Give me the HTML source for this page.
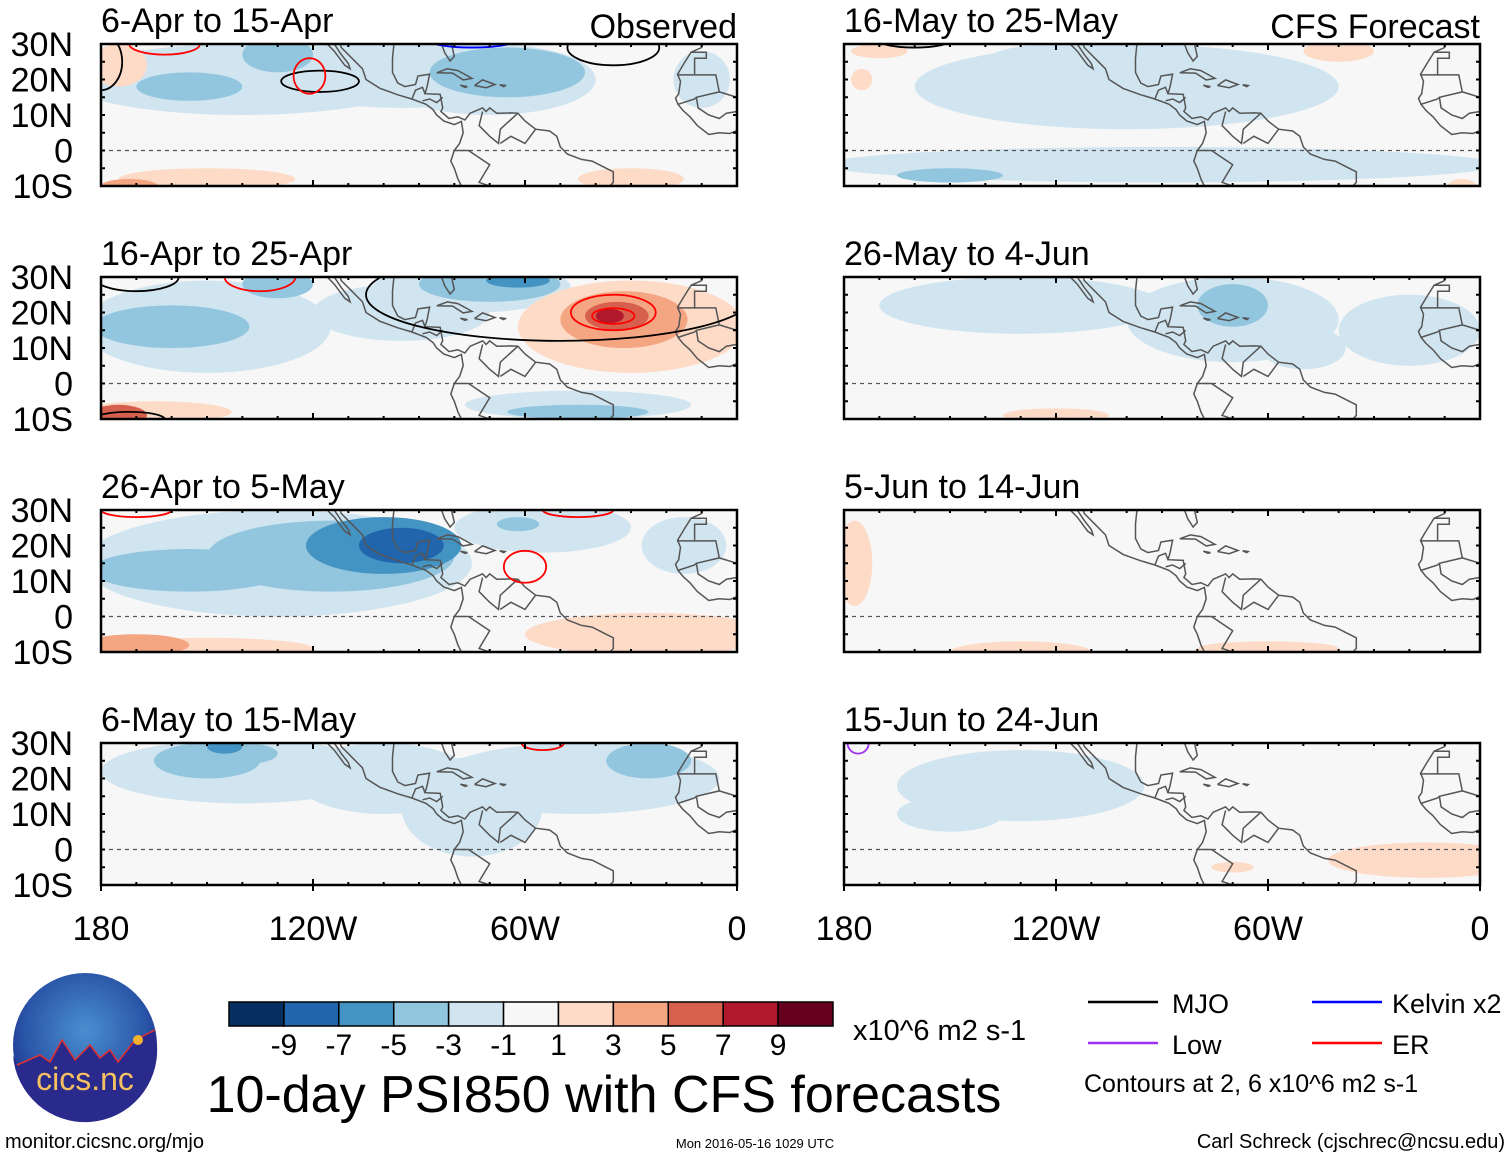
<!DOCTYPE html>
<html><head><meta charset="utf-8">
<style>
html,body{margin:0;padding:0;background:#fff;}
body{width:1510px;height:1158px;overflow:hidden;font-family:"Liberation Sans",sans-serif;}
svg text{font-family:"Liberation Sans",sans-serif;}
</style></head>
<body>
<svg id="chart" width="1510" height="1158" viewBox="0 0 1510 1158" xmlns="http://www.w3.org/2000/svg">
<defs>
<radialGradient id="logoGrad" cx="50%" cy="40%" r="60%">
<stop offset="0" stop-color="#4a8fd0"/><stop offset="0.7" stop-color="#2a56a8"/><stop offset="1" stop-color="#1c2f8a"/>
</radialGradient>
</defs>
<g id="panels"></g>
<g id="legend"></g>
</svg>
<script>
const panelTitles = ["6-Apr to 15-Apr","16-Apr to 25-Apr","26-Apr to 5-May","6-May to 15-May","16-May to 25-May","26-May to 4-Jun","5-Jun to 14-Jun","15-Jun to 24-Jun"];
const latTicks = [30,20,10,0,-10];
const latLabels = ["30N","20N","10N","0","10S"];
const lonTicks = [-180,-120,-60,0];
const lonLabels = ["180","120W","60W","0"];
const levels = [-9,-7,-5,-3,-1,1,3,5,7,9];
const levelColors = ["#053061","#2166ac","#4393c3","#92c5de","#d1e5f0","#f7f7f7","#fddbc7","#f4a582","#d6604d","#b2182b","#67001f"];
// Shaded anomaly blobs per panel: [lon, lat, lonRadius, latRadius, value]
const shading = [
 [[-140,20,50,10,-2],[-95,22,40,10,-2],[-70,20,30,10,-2],[-155,18,15,4,-4],[-130,27,10,5,-4],[-65,22,22,7,-4],[-175,24,8,6,2],[-150,-8,25,3,2],[-30,-8,15,3,2],[-172,-10,8,2,4],[-10,20,8,8,-2]],
 [[-150,16,35,13,-2],[-160,16,22,6,-4],[-130,28,10,4,-4],[-75,27,28,7,-2],[-70,28,20,5,-4],[-62,29,9,2,-6],[-30,16,32,13,2],[-32,18,18,8,4],[-34,19,9,4,6],[-36,19,4,2,8],[-165,-8,22,3,2],[-175,-9,8,3,6],[-45,-6,32,4,-2],[-45,-8,20,2,-4],[-95,20,25,8,-2]],
 [[-130,15,55,15,-2],[-155,13,28,6,-4],[-115,17,35,10,-4],[-100,20,22,8,-6],[-95,20,12,5,-8],[-55,25,25,7,-2],[-15,20,12,8,-2],[-25,-5,35,6,2],[-170,-8,15,3,4],[-150,-9,30,3,2],[-62,26,6,2,-4]],
 [[-140,22,40,9,-2],[-100,20,25,10,-2],[-75,12,20,14,-2],[-45,20,40,10,-2],[-150,25,15,5,-4],[-140,27,10,3,-4],[-25,25,12,5,-4],[-145,29,5,2,-6]],
 [[-100,18,60,12,-2],[-90,-4,95,5,-2],[-150,-7,15,2,-4],[-175,20,3,3,2],[-40,28,10,3,2],[-5,-10,4,2,2],[-170,28,8,2,2],[-120,25,20,5,-2]],
 [[-70,18,30,12,-2],[-130,22,40,8,-2],[-20,15,20,10,-2],[-70,22,10,6,-4],[-120,-9,15,2,2],[-50,10,12,6,-2]],
 [[-177,15,5,12,2],[-130,-10,20,3,2],[-60,-9,20,2,2]],
 [[-130,18,35,10,-2],[-150,10,15,5,-2],[-15,-3,28,5,2],[-70,-5,6,1.5,2]]
];
// Contour ellipses per panel: [lon, lat, lonRadius, latRadius, type]
const contours = [
 [[-118,19.5,11,3,"MJO"],[-121,21,4.5,5,"ER"],[-35,29,13,5,"MJO"],[-180,25,6,8,"MJO"],[-162,30,10,3,"ER"],[-75,31,12,2,"Kelvin"]],
 [[-50,25,55,13,"MJO"],[-170,30,12,4,"MJO"],[-135,30,10,4,"ER"],[-35,20,12,5,"ER"],[-35,19,6,2.2,"ER"],[-172,-10,10,2,"MJO"]],
 [[-60,14,6,4.5,"ER"],[-170,30,10,2,"ER"],[-45,30,10,2,"ER"]],
 [[-55,30,6,2,"ER"]],
 [[-160,31,10,2,"MJO"]],
 [],
 [],
 [[-176,30,3,3,"Low"]]
];
const contourColors = {MJO:"#000",ER:"#f00",Kelvin:"#00f",Low:"#a030f0"};
const coasts = [
 [[-118,33],[-117,31],[-114,28],[-111,24],[-109.5,23],[-110,24.5],[-112,27],[-114,30],[-115,31.5]],
 [[-113,32],[-112,29],[-109,26],[-106,23],[-105,20],[-101,17.5],[-96,15.7],[-92,14.5],[-88,13],[-86,11.5],[-85,10],[-83,8.3],[-80,7.3],[-78,8.2],[-77.5,5],[-78.5,2],[-80,0],[-81,-3],[-80,-5],[-79,-8],[-78,-10]],
 [[-97,31],[-97.5,26],[-97.5,22],[-96,19],[-94,18],[-91,18.6],[-90.3,21],[-87,21.5],[-87.7,18],[-88.3,16],[-84,15.8],[-83.3,12],[-83.8,11],[-81.5,9],[-79,9.5],[-77,8.6],[-75.5,10.5],[-72,12],[-71,11],[-70,12],[-68,10.5],[-64,10.6],[-62,10.5],[-60,8.3],[-57,6],[-53,5.5],[-51,4],[-50,1],[-48,-1],[-44,-2.5],[-41,-3],[-37,-5],[-35,-6],[-35,-9],[-36,-10]],
 [[-84,31],[-82.7,27.5],[-81.2,25.2],[-80,26.5],[-80.8,30],[-81.3,31]],
 [[-85,21.9],[-82,23],[-79,22.5],[-75,20.3],[-77.5,19.9],[-80.5,21.8],[-85,21.9]],
 [[-74.3,18.3],[-72,19.9],[-68.5,18.6],[-71,17.7],[-74.3,18.3]],
 [[-78.3,18.4],[-76.3,18],[-77,17.8],[-78.3,18.4]],
 [[-67.2,18.5],[-65.6,18.3],[-66,18],[-67.2,18.5]],
 [[-9.5,31],[-10,29],[-13,27.7],[-15,24.5],[-16.8,21.5],[-16,19.5],[-16.5,16],[-17.4,14.7],[-16.7,13],[-15.3,11.3],[-13.3,9.5],[-11.2,7],[-8,4.5],[-5,5],[-2,4.8],[0,5.6]],
 [[-13,27.7],[-8.7,27.7],[-8.7,26],[-12,26],[-12,21.3],[-17,21.3]],
 [[-12,21.3],[-6,21.3],[-5,16.5],[-11.5,15],[-12,14.5],[-16.7,13]],
 [[-5,16.5],[0,15],[0,30]],
 [[-11.5,15],[-11,12],[-8,10],[-5,9],[-3,10.5],[0,11]],
 [[-62,10.5],[-67,6],[-67.5,2],[-70,4],[-73,7],[-72,11]],
 [[-57,6],[-60,2],[-64,4],[-67,2]],
 [[-80,0],[-76,0],[-70,-4],[-73,-9],[-70,-10]],
 [[-89,14],[-87,14.5],[-85,13.5],[-83.3,15]],
 [[-92,14.5],[-91,17],[-89,17.8],[-88.3,16]]
];
const panelX = [101,101,101,101,844,844,844,844];
const panelY = [44,277,510,743,44,277,510,743];
const PW = 636, PH = 142;
const NS = "http://www.w3.org/2000/svg";
function colorFor(v){let i=0;while(i<levels.length&&v>levels[i])i++;return levelColors[i];}
function el(tag,attrs,parent){const e=document.createElementNS(NS,tag);for(const k in attrs)e.setAttribute(k,attrs[k]);if(parent)parent.appendChild(e);return e;}
const root=document.getElementById('panels');
for(let p=0;p<8;p++){
  const x0=panelX[p],y0=panelY[p];
  const xs=lon=>x0+(lon+180)/180*PW;
  const ys=lat=>y0+(30-lat)/40*PH;
  const g=el('g',{},root);
  
  
  const cp=el('clipPath',{id:'clip'+p},g);
  el('rect',{x:x0,y:y0,width:PW,height:PH},cp);
  const bg=el('rect',{x:x0,y:y0,width:PW,height:PH,fill:'#f7f7f7'},g);
  
  
  const sg=el('g',{'clip-path':'url(#clip'+p+')'},g);
  const sh=shading[p].slice().sort((a,b)=>Math.abs(a[4])-Math.abs(b[4]));
  sh.forEach(b=>{
    const e=el('ellipse',{cx:xs(b[0]),cy:ys(b[1]),rx:b[2]/180*PW,ry:b[3]/40*PH,fill:colorFor(b[4])},sg);
    
    
  });
  coasts.forEach(c=>{
    const pl=el('polyline',{points:c.map(q=>xs(q[0]).toFixed(1)+','+ys(q[1]).toFixed(1)).join(' '),fill:'none',stroke:'#555','stroke-width':1.5},sg);
    
    
  });
  const eq=el('line',{x1:x0,x2:x0+PW,y1:ys(0),y2:ys(0),stroke:'#555','stroke-width':1.3,'stroke-dasharray':'4,4'},sg);
  
  
  contours[p].forEach(c=>{
    const e=el('ellipse',{cx:xs(c[0]),cy:ys(c[1]),rx:c[2]/180*PW,ry:c[3]/40*PH,fill:'none',stroke:contourColors[c[4]],'stroke-width':1.8},sg);
    
    
  });
  const fr=el('rect',{x:x0,y:y0,width:PW,height:PH,fill:'none',stroke:'#000','stroke-width':2.5},g);
  
  
  for(let lon=-180;lon<=0;lon+=10){
    const big=lon%60===0;
    el('line',{x1:xs(lon),x2:xs(lon),y1:y0,y2:y0+(big?6:3),stroke:'#000','stroke-width':2},g);
    el('line',{x1:xs(lon),x2:xs(lon),y1:y0+PH,y2:y0+PH-(big?6:3),stroke:'#000','stroke-width':2},g);
    if(p%4===3&&big) el('line',{x1:xs(lon),x2:xs(lon),y1:y0+PH,y2:y0+PH+6,stroke:'#000','stroke-width':2},g);
  }
  for(let lat=-10;lat<=30;lat+=5){
    el('line',{x1:x0,x2:x0+4,y1:ys(lat),y2:ys(lat),stroke:'#000','stroke-width':2},g);
    el('line',{x1:x0+PW,x2:x0+PW-4,y1:ys(lat),y2:ys(lat),stroke:'#000','stroke-width':2},g);
  }
  const t=el('text',{x:x0,y:y0-12,'font-size':34},g);
  t.textContent=panelTitles[p];
  
  
  if(p<4){
    latTicks.forEach((lat,i)=>{
      const lt=el('text',{x:73,y:ys(lat)+12,'font-size':34,'text-anchor':'end'},g);
      lt.textContent=latLabels[i];
      
      
    });
  }
  if(p%4===3){
    lonTicks.forEach((lon,i)=>{
      const lt=el('text',{x:xs(lon),y:940,'font-size':34,'text-anchor':'middle'},g);
      lt.textContent=lonLabels[i];
      
      
    });
  }
  if(p===0||p===4){
    const h=el('text',{x:x0+PW,y:y0-6,'font-size':34,'text-anchor':'end'},g);
    h.textContent=p===0?'Observed':'CFS Forecast';
    
    
  }
}
const lg=document.getElementById('legend');
const cbX=229,cbW=604/11,cbY=1002,cbH=24;
levelColors.forEach((c,i)=>{
  const r=el('rect',{x:cbX+i*cbW,y:cbY,width:cbW,height:cbH,fill:c,stroke:'#000','stroke-width':1.5},lg);
  
  
});
levels.forEach((v,i)=>{
  const t=el('text',{x:cbX+(i+1)*cbW,y:1055,'font-size':30,'text-anchor':'middle'},lg);
  t.textContent=v;
  
  
});
</script>
<svg style="position:absolute;left:0;top:0" width="1510" height="1158">
<text x="853" y="1040" font-size="29">x10^6 m2 s-1</text>
<text x="604" y="1112" font-size="52" text-anchor="middle">10-day PSI850 with CFS forecasts</text>
<text x="5" y="1148" font-size="20">monitor.cicsnc.org/mjo</text>
<text x="755" y="1148" font-size="13" text-anchor="middle">Mon 2016-05-16 1029 UTC</text>
<text x="1505" y="1148" font-size="20" text-anchor="end">Carl Schreck (cjschrec@ncsu.edu)</text>
<g>
<line x1="1088" x2="1158" y1="1002" y2="1002" stroke="#000" stroke-width="2.5"/>
<text x="1172" y="1013" font-size="27">MJO</text>
<line x1="1312" x2="1382" y1="1002" y2="1002" stroke="#00f" stroke-width="2.5"/>
<text x="1392" y="1013" font-size="27">Kelvin x2</text>
<line x1="1088" x2="1158" y1="1043" y2="1043" stroke="#a030f0" stroke-width="2.5"/>
<text x="1172" y="1054" font-size="27">Low</text>
<line x1="1312" x2="1382" y1="1043" y2="1043" stroke="#f00" stroke-width="2.5"/>
<text x="1392" y="1054" font-size="27">ER</text>
<text x="1084" y="1092" font-size="25">Contours at 2, 6 x10^6 m2 s-1</text>
</g>
<g>
<circle cx="85" cy="1045" r="72" fill="url(#logoGrad)"/>
<path d="M17 1065 L40 1055 L50 1062 L62 1040 L75 1060 L90 1045 L100 1058 L110 1050 L118 1062 L135 1040 L155 1030 L157 1045 A72 72 0 0 1 13 1055 Z" fill="#2a2a8c"/>
<polyline points="17,1065 40,1055 50,1062 62,1040 75,1060 90,1045 100,1058 110,1050 118,1062 135,1040 155,1030" fill="none" stroke="#e03030" stroke-width="1.5"/>
<circle cx="138" cy="1040" r="5" fill="#f7b030"/>
<text x="85" y="1090" font-size="32" text-anchor="middle" fill="#f5c060">cics.nc</text>
</g>
</svg>
</body></html>
